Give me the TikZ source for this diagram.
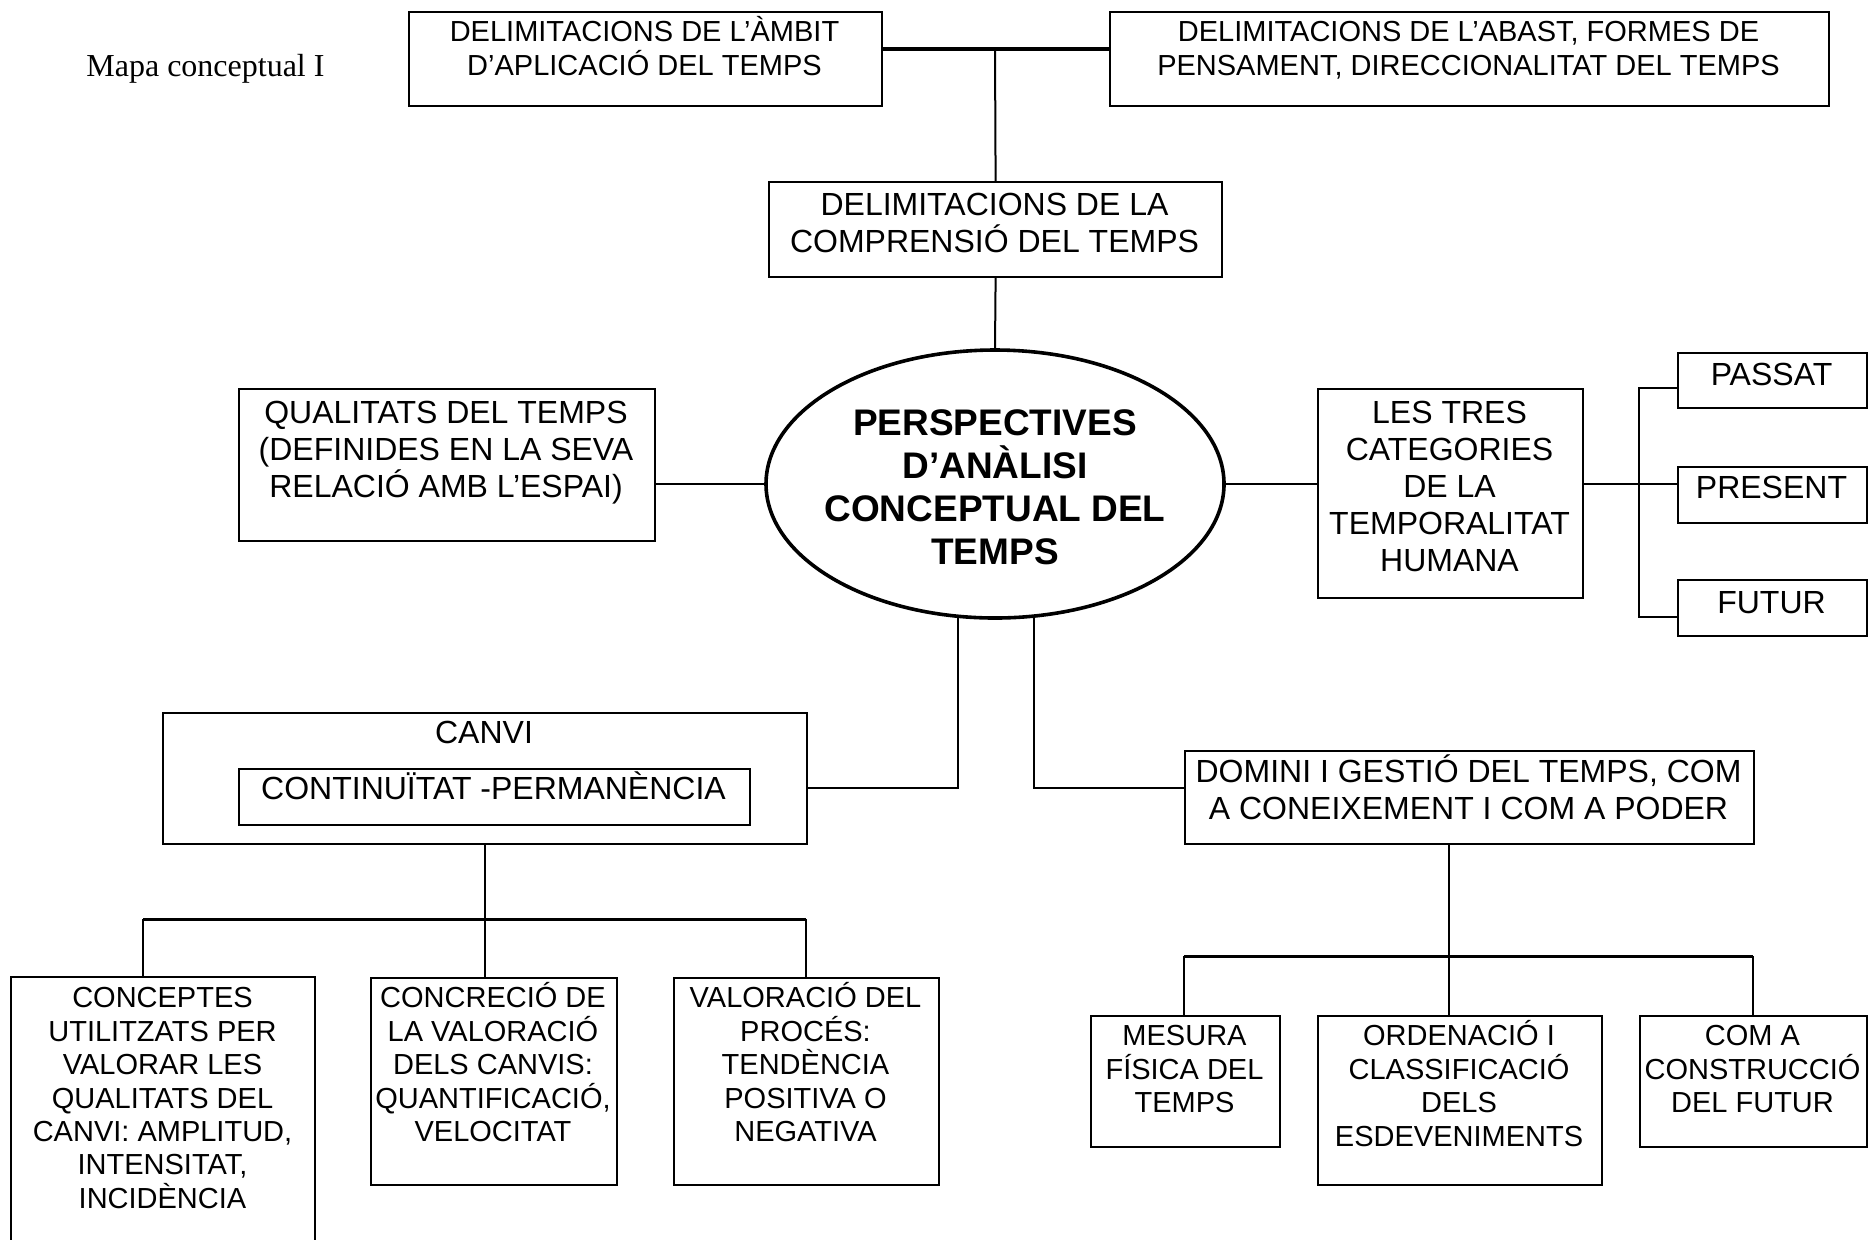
\documentclass[tikz,border=0pt]{standalone}
\usepackage{fontspec}
\setmainfont{Liberation Sans}
\newfontfamily\titlefont{Liberation Serif}
\usetikzlibrary{shapes.geometric}
% fixed-height first line, so every label starts at the same depth below its box top
\newcommand\tp{\rule{0pt}{1em}}
\begin{document}
\begin{tikzpicture}[x=0.5pt,y=-0.5pt,
  box/.style={draw, line width=1.1pt, inner sep=0pt, anchor=north west},
  openbox/.style={draw=none, inner sep=0pt, anchor=north west},
  lbl/.style={anchor=north, inner sep=0pt, align=center},
  small/.style={font=\fontsize{14.5pt}{16.7pt}\selectfont},
  mid/.style={font=\fontsize{16pt}{18.4pt}\selectfont},
  big/.style={font=\fontsize{18.5pt}{21.5pt}\selectfont\bfseries},
  link/.style={line width=1pt},
  bus/.style={line width=1.5pt},
  heavy/.style={line width=2.2pt}]

% page
\fill[white] (0,0) rectangle (1872,1239);
\useasboundingbox (0,0) rectangle (1872,1239);

% heading
\node[anchor=base west, inner sep=0pt, font=\titlefont\fontsize{16pt}{18pt}\selectfont]
  (title) at (86,76) {Mapa conceptual I};

% boxes
\node[box, minimum width=236.5pt, minimum height=47pt] (ambit) at (408,11) {};
\node[box, minimum width=359.5pt, minimum height=47pt] (abast) at (1109,11) {};
\node[box, minimum width=226.5pt, minimum height=47.5pt] (comp) at (768,181) {};
\node[box, minimum width=208pt, minimum height=76pt] (qual) at (238,388) {};
\node[draw, line width=1.8pt, ellipse, inner sep=0pt, minimum width=229pt, minimum height=134pt]
  (centre) at (995,484) {};
\node[box, minimum width=132.5pt, minimum height=104.5pt] (tres) at (1317,388) {};
\node[box, minimum width=94.5pt, minimum height=27.5pt] (passat) at (1677,352) {};
\node[box, minimum width=94.5pt, minimum height=28pt] (present) at (1677,466) {};
\node[box, minimum width=94.5pt, minimum height=28pt] (futur) at (1677,579) {};
\node[box, minimum width=322pt, minimum height=65.5pt] (canvi) at (162,712) {};
\node[box, line width=0.8pt, minimum width=255.5pt, minimum height=28pt] (cont) at (238,768) {};
\node[box, minimum width=284.5pt, minimum height=46.5pt] (domini) at (1184,750) {};
\node[openbox, minimum width=151.5pt, minimum height=131pt] (conceptes) at (11,977) {};
\draw[line width=1.1pt] (conceptes.south west) -- (conceptes.north west)
  -- (conceptes.north east) -- (conceptes.south east);
\node[box, minimum width=123pt, minimum height=103.5pt] (concrecio) at (370,977) {};
\node[box, minimum width=132.5pt, minimum height=103.5pt] (valoracio) at (673,977) {};
\node[box, minimum width=94.5pt, minimum height=65.5pt] (mesura) at (1090,1015) {};
\node[box, minimum width=142pt, minimum height=84.5pt] (ordenacio) at (1317,1015) {};
\node[box, minimum width=113.5pt, minimum height=65.5pt] (coma) at (1639,1015) {};

% texts
\node[lbl, small] (t-ambit) at (644.5,12.5) {\tp DELIMITACIONS DE L’ÀMBIT\\D’APLICACIÓ DEL TEMPS};
\node[lbl, small] (t-abast) at (1468.5,12.5) {\tp DELIMITACIONS DE L’ABAST, FORMES DE\\PENSAMENT, DIRECCIONALITAT DEL TEMPS};
\node[lbl, mid] (t-comp) at (994.5,183.5) {\tp DELIMITACIONS DE LA\\COMPRENSIÓ DEL TEMPS};
\node[lbl, mid] (t-qual) at (446,391.5) {\tp QUALITATS DEL TEMPS\\(DEFINIDES EN LA SEVA\\RELACIÓ AMB L’ESPAI)};
\node[lbl, big] (t-centre) at (995,397.7) {\tp PERSPECTIVES\\D’ANÀLISI\\CONCEPTUAL DEL\\TEMPS};
\node[lbl, mid] (t-tres) at (1449.5,391.5) {\tp LES TRES\\CATEGORIES\\DE LA\\TEMPORALITAT\\HUMANA};
\node[lbl, mid] (t-passat) at (1771.5,353.5) {\tp PASSAT};
\node[lbl, mid] (t-present) at (1771.5,466.5) {\tp PRESENT};
\node[lbl, mid] (t-futur) at (1771.5,581.5) {\tp FUTUR};
\node[lbl, mid] (t-canvi) at (484,711.5) {\tp CANVI};
\node[lbl, mid] (t-cont) at (493.5,767.5) {\tp CONTINUÏTAT -PERMANÈNCIA};
\node[lbl, mid] (t-domini) at (1468.5,750.5) {\tp DOMINI I GESTIÓ DEL TEMPS, COM\\A CONEIXEMENT I COM A PODER};
\node[lbl, small] (t-conceptes) at (162.5,978.4) {\tp CONCEPTES\\UTILITZATS PER\\VALORAR LES\\QUALITATS DEL\\CANVI: AMPLITUD,\\INTENSITAT,\\INCIDÈNCIA};
\node[lbl, small] (t-concrecio) at (493,978.4) {\tp CONCRECIÓ DE\\LA VALORACIÓ\\DELS CANVIS:\\QUANTIFICACIÓ,\\VELOCITAT};
\node[lbl, small] (t-valoracio) at (805.5,978.4) {\tp VALORACIÓ DEL\\PROCÉS:\\TENDÈNCIA\\POSITIVA O\\NEGATIVA};
\node[lbl, small] (t-mesura) at (1184.5,1016.4) {\tp MESURA\\FÍSICA DEL\\TEMPS};
\node[lbl, small] (t-ordenacio) at (1459,1016.4) {\tp ORDENACIÓ I\\CLASSIFICACIÓ\\DELS\\ESDEVENIMENTS};
\node[lbl, small] (t-coma) at (1752.5,1016.4) {\tp COM A\\CONSTRUCCIÓ\\DEL FUTUR};

% upper connectors
\coordinate (hub) at (995,49);
\draw[heavy] (ambit.east |- hub) -- (abast.west |- hub);
\draw[link] (hub) -- (comp.north);
\draw[link] (comp.south) -- (centre.north);
\draw[link] (qual.east |- centre.center) -- (centre.west);
\draw[link] (centre.east) -- (tres.west |- centre.center);

% bracket to the three tenses
\coordinate (br) at (1639,484);
\coordinate (bt) at (1639,388);
\coordinate (bb) at (1639,617);
\draw[link] (tres.east |- br) -- (br) -- (present.west |- br);
\draw[link] (passat.west |- bt) -- (bt) -- (bb) -- (futur.west |- bb);

% lower branches from the ellipse
\coordinate (jl) at (958,788);
\coordinate (jr) at (1034,788);
\draw[link] (centre.254 -| jl) -- (jl) -- (canvi.east |- jl);
\draw[link] (centre.286 -| jr) -- (jr) -- (domini.west |- jr);

% change subtree
\coordinate (cl) at (143,919);
\coordinate (cr) at (806,919);
\draw[link] (canvi.south) -- (canvi.south |- cl);
\draw[bus] (cl) -- (cr);
\draw[link] (cl) -- (cl |- conceptes.north);
\draw[link] (canvi.south |- cl) -- (canvi.south |- concrecio.north);
\draw[link] (cr) -- (cr |- valoracio.north);

% mastery subtree
\coordinate (dl) at (1184,956);
\coordinate (dm) at (1449,956);
\coordinate (dr) at (1753,956);
\draw[link] (domini.south -| dm) -- (dm);
\draw[bus] (dl) -- (dr);
\draw[link] (dl) -- (dl |- mesura.north);
\draw[link] (dm) -- (dm |- ordenacio.north);
\draw[link] (dr) -- (dr |- coma.north);
\end{tikzpicture}
\end{document}
